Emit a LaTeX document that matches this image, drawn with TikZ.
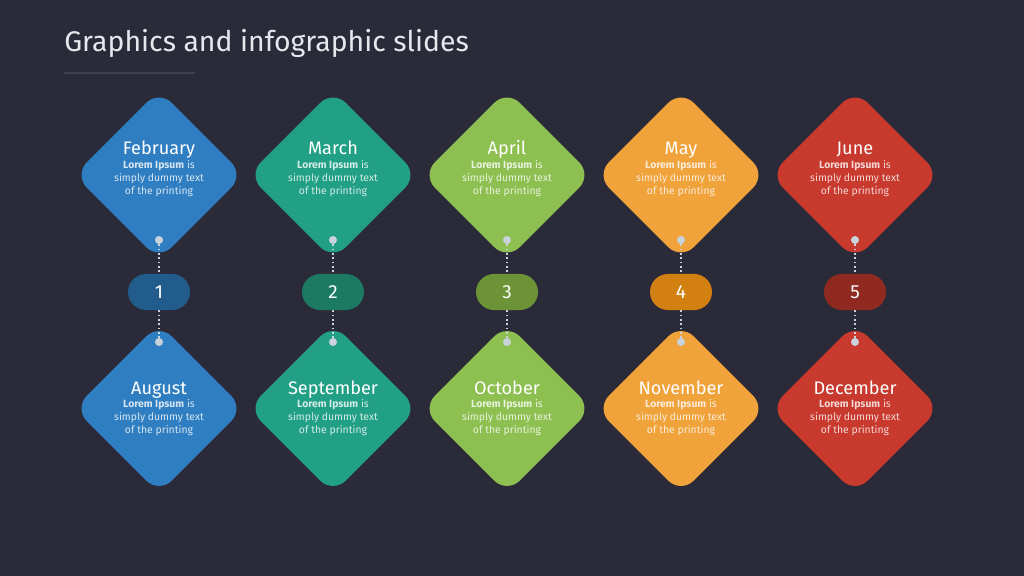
\documentclass[tikz,border=0pt]{standalone}
\usepackage{fontspec}
\setmainfont{Fira Sans}
\usetikzlibrary{positioning}

\definecolor{slidebg}{HTML}{2B2A38}
\definecolor{rulegray}{HTML}{3E3E50}
\definecolor{titlegray}{HTML}{E6E8EE}
\definecolor{pingray}{HTML}{C9D3DC}
\definecolor{tileblue}{HTML}{2F7EC1}
\definecolor{pillblue}{HTML}{215C8C}
\definecolor{tileteal}{HTML}{22A085}
\definecolor{pillteal}{HTML}{1C7A63}
\definecolor{tilegreen}{HTML}{8DC051}
\definecolor{pillgreen}{HTML}{6C9336}
\definecolor{tileorange}{HTML}{F0A23B}
\definecolor{pillorange}{HTML}{D2800F}
\definecolor{tilered}{HTML}{C8392E}
\definecolor{pillred}{HTML}{902A21}

\begin{document}
\begin{tikzpicture}[x=0.025cm,y=-0.025cm,
tile/.style={rectangle,rotate=45,minimum size=3cm,inner sep=0pt,rounded corners=0.45cm},
month/.style={anchor=base,text=white,font=\fontsize{12.9}{14}\selectfont,inner sep=0pt},
blurb/.style={text=white,text opacity=0.8,align=center,inner sep=0pt,
    font=\fontsize{7.4}{9.25}\selectfont},
pill/.style={rectangle,rounded corners=0.45cm,minimum width=1.55cm,minimum height=0.9cm,
    inner sep=0pt,text=white,font=\fontsize{13.5}{14}\selectfont},
pin/.style={circle,fill=pingray,minimum size=0.2cm,inner sep=0pt},
link/.style={pingray,dotted,line width=1.1pt}]
\fill[slidebg] (0,0) rectangle (1024,576);
\useasboundingbox (0,0) rectangle (1024,576);

\node (title) [anchor=base west,inner sep=0pt,text=titlegray,
    font=\fontsize{20.2}{22}\selectfont] at (64,52) {Graphics and infographic slides};
\draw[rulegray,line width=0.8pt] (64,73) -- (195,73);

\foreach \i/\x/\up/\dn/\tc/\pc in {
    1/159/February/August/tileblue/pillblue,
    2/333/March/September/tileteal/pillteal,
    3/507/April/October/tilegreen/pillgreen,
    4/681/May/November/tileorange/pillorange,
    5/855/June/December/tilered/pillred}{
  \node (up\i) [tile,fill=\tc] at (\x,175) {};
  \node (dn\i) [tile,fill=\tc] at (\x,408.5) {};
  \node (upm\i) [month] at (\x,155) {\up};
  \node (upb\i) [blurb] at (\x,178.5) {\textbf{\color{white}Lorem Ipsum} is\\simply dummy text\\of the printing};
  \node (dnm\i) [month] at (\x,394) {\dn};
  \node (dnb\i) [blurb] at (\x,417.5) {\textbf{\color{white}Lorem Ipsum} is\\simply dummy text\\of the printing};
  \node (num\i) [pill,fill=\pc] at (\x,292) {\i};
  \node (upp\i) [pin] at (\x,240) {};
  \node (dnp\i) [pin] at (\x,342) {};
  \draw[link] (upp\i) -- (num\i);
  \draw[link] (num\i) -- (dnp\i);
}
\end{tikzpicture}
\end{document}
